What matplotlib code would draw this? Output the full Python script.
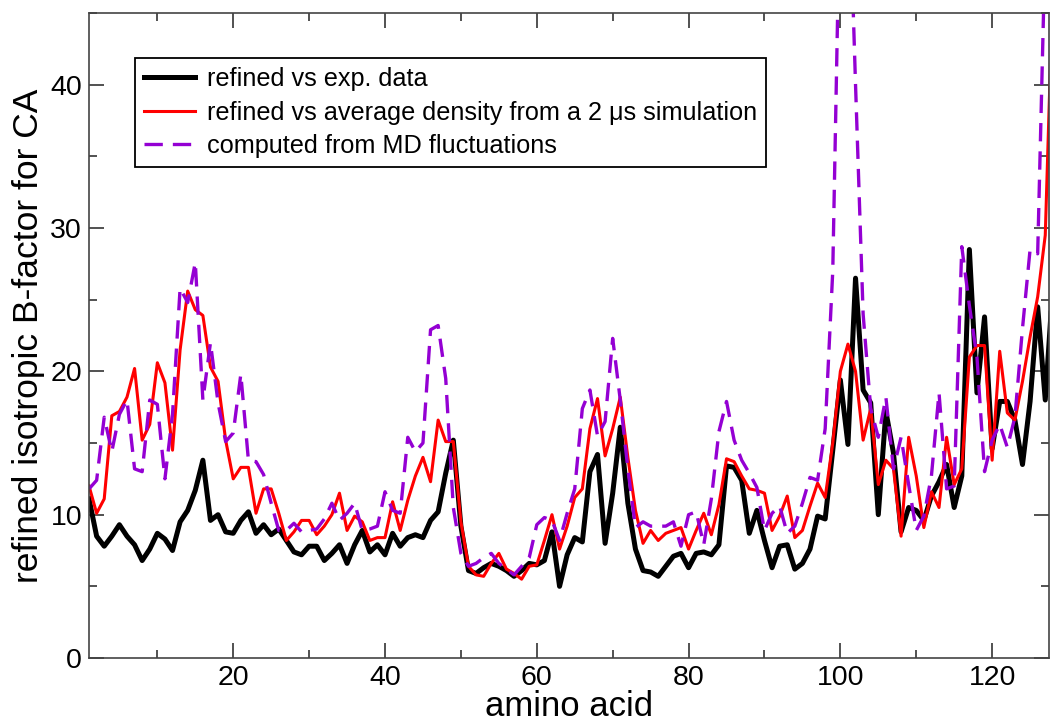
import numpy as np
import matplotlib
matplotlib.use('Agg')
import matplotlib.pyplot as plt
from matplotlib.ticker import MultipleLocator

plt.rcParams['font.family'] = ['Liberation Sans', 'DejaVu Sans']

residue = np.arange(1, 129)

b_exp = [11.1, 8.5, 7.8, 8.5, 9.3, 8.5, 7.9, 6.8, 7.6, 8.7,
         8.3, 7.5, 9.5, 10.3, 11.7, 13.8, 9.6, 10.0, 8.8, 8.7,
         9.6, 10.2, 8.7, 9.3, 8.6, 9.0, 8.2, 7.4, 7.2, 7.8,
         7.8, 6.8, 7.3, 7.9, 6.6, 7.9, 8.9, 7.4, 7.9, 7.2,
         8.7, 7.8, 8.4, 8.6, 8.4, 9.6, 10.2, 12.9, 15.2, 9.2,
         6.1, 5.9, 6.3, 6.6, 6.4, 6.1, 5.7, 6.1, 6.6, 6.5,
         6.8, 8.8, 5.0, 7.2, 8.4, 8.1, 13.0, 14.2, 8.0, 11.5,
         16.1, 10.8, 7.6, 6.1, 6.0, 5.7, 6.4, 7.1, 7.3, 6.3,
         7.3, 7.4, 7.2, 7.9, 13.4, 13.3, 12.4, 8.7, 10.3, 8.2,
         6.3, 7.8, 7.9, 6.2, 6.6, 7.6, 9.9, 9.7, 14.5, 19.4,
         14.9, 26.5, 18.7, 17.8, 10.0, 17.2, 14.3, 8.8, 10.5, 10.3,
         9.6, 11.3, 12.3, 13.5, 10.5, 12.7, 28.5, 18.5, 23.8, 14.6,
         17.9, 17.9, 16.6, 13.5, 17.9, 24.5, 18.0, 26.0]

b_avg = [12.0, 10.1, 11.1, 16.9, 17.2, 18.2, 20.2, 15.2, 16.3, 20.6,
         19.2, 14.5, 21.5, 25.6, 24.3, 23.9, 20.3, 19.3, 15.2, 12.5,
         13.3, 13.3, 10.1, 11.8, 11.8, 10.1, 8.2, 8.8, 9.6, 9.6,
         8.6, 9.2, 10.0, 11.5, 8.9, 9.9, 9.5, 8.2, 8.4, 8.4,
         10.9, 8.9, 11.0, 12.7, 14.0, 12.3, 16.6, 15.1, 15.1, 9.5,
         6.4, 5.8, 5.7, 6.6, 7.3, 6.2, 5.9, 5.5, 6.4, 6.5,
         8.2, 10.0, 7.6, 9.2, 11.2, 11.8, 16.0, 18.1, 14.1, 16.0,
         18.2, 14.0, 10.3, 8.0, 8.9, 8.2, 8.7, 8.9, 9.1, 7.6,
         8.9, 10.1, 8.6, 10.7, 13.9, 13.7, 12.7, 11.8, 11.7, 11.5,
         8.9, 9.9, 11.3, 8.4, 8.9, 10.6, 12.2, 11.2, 15.0, 20.0,
         21.9, 20.0, 15.2, 17.4, 12.1, 13.8, 13.2, 8.5, 15.4, 12.7,
         9.1, 11.6, 10.5, 15.4, 12.1, 13.2, 21.0, 21.8, 21.8, 13.8,
         21.4, 17.1, 16.6, 19.3, 22.4, 25.2, 29.5, 47.0]

b_md = [11.8, 12.4, 16.8, 14.4, 17.0, 18.0, 13.2, 13.0, 18.0, 17.7,
        12.5, 17.0, 25.8, 24.8, 27.6, 18.0, 22.0, 17.8, 15.1, 15.7,
        19.8, 13.8, 13.7, 12.8, 10.8, 8.9, 8.9, 9.4, 8.8, 8.9,
        9.0, 9.7, 10.8, 9.6, 10.1, 10.8, 8.9, 9.0, 9.2, 11.6,
        10.3, 10.1, 15.4, 14.4, 15.0, 22.9, 23.2, 19.5, 10.5, 7.3,
        6.4, 6.6, 7.0, 7.3, 6.6, 6.2, 5.8, 6.4, 7.0, 9.3,
        9.8, 9.6, 8.2, 10.1, 11.8, 17.4, 18.7, 15.5, 16.5, 22.3,
        18.0, 13.2, 9.1, 9.5, 9.2, 9.2, 9.2, 9.5, 7.8, 10.0,
        10.2, 7.9, 11.1, 15.8, 17.9, 15.2, 13.8, 12.9, 11.9, 8.9,
        10.1, 10.6, 8.7, 9.2, 10.8, 12.6, 12.4, 16.0, 27.0, 55.0,
        57.0, 40.0, 24.0, 17.4, 15.4, 18.2, 13.2, 15.4, 12.1, 8.9,
        9.9, 12.7, 18.5, 11.8, 12.0, 28.7, 24.6, 21.0, 13.0, 15.2,
        16.3, 14.7, 16.8, 23.0, 28.5, 28.2, 50.0, 60.0]

fig = plt.figure(figsize=(10.5, 7.27), dpi=100)
ax = fig.add_axes([0.0848, 0.0949, 0.9143, 0.8872])

ax.plot(residue, b_exp, color='black', lw=3.6, label='refined vs exp. data')
ax.plot(residue, b_avg, color='#ff0000', lw=2.2,
        label='refined vs average density from a 2 \u03bcs simulation')
ax.plot(residue, b_md, color='#9400d3', lw=2.4, linestyle=(0, (5.5, 3)),
        label='computed from MD fluctuations')

ax.set_xlim(1, 127.5)
ax.set_ylim(0, 45)
ax.xaxis.set_major_locator(MultipleLocator(20))
ax.xaxis.set_minor_locator(MultipleLocator(10))
ax.yaxis.set_major_locator(MultipleLocator(10))
ax.yaxis.set_minor_locator(MultipleLocator(5))
ax.tick_params(which='both', direction='in', top=True, right=True,
               labelsize=20.5, color='#222222')
ax.tick_params(which='major', length=11, width=1.1, pad=5)
ax.tick_params(which='minor', length=6, width=1.1)
for s in ax.spines.values():
    s.set_linewidth(1.2)
    s.set_color('#444444')

ax.set_xlabel('amino acid', fontsize=25, labelpad=-1)
ax.set_ylabel('refined isotropic B-factor for CA', fontsize=25.5, labelpad=4)

leg = ax.legend(loc='upper left', bbox_to_anchor=(0.048, 0.930),
                borderaxespad=0, fontsize=18.2, fancybox=False,
                edgecolor='black', framealpha=1, handlelength=2.0,
                handletextpad=0.5, borderpad=0.35, labelspacing=0.38)
leg.get_frame().set_linewidth(1.3)

fig.savefig('out.png', dpi=100)
